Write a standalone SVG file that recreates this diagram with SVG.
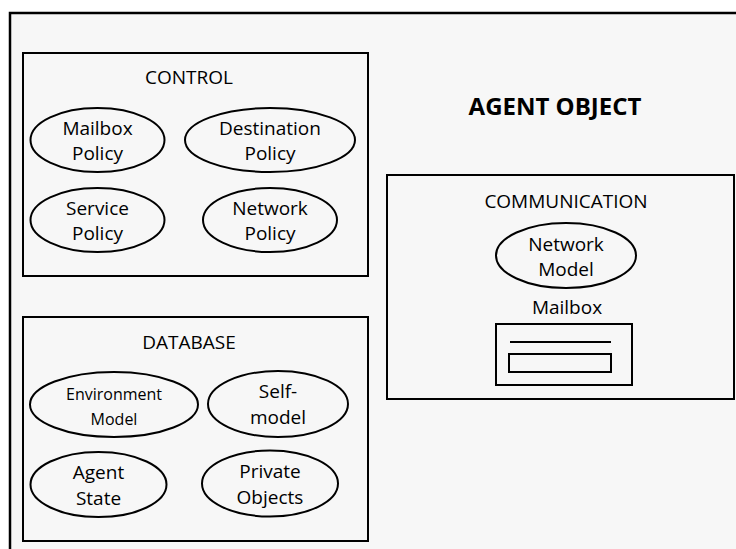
<svg xmlns="http://www.w3.org/2000/svg" width="736" height="549" viewBox="0 0 736 549">
<style>
text{font-family:"Open Sans","Liberation Sans",sans-serif;fill:#000;text-anchor:middle}
.t{font-size:19px}
.s{font-size:16px}
.b{font-size:24px;font-weight:bold}
.box{fill:none;stroke:#000;stroke-width:2}
.el{fill:none;stroke:#000;stroke-width:2}
</style>
<rect x="0" y="0" width="736" height="549" fill="#fff"/>
<rect x="10" y="13" width="740" height="560" fill="#f7f7f7" stroke="#000" stroke-width="2.5"/>
<g id="title"><text class="b" x="555" y="115">AGENT OBJECT</text></g>
<g id="control">
<rect class="box" x="23" y="53" width="345" height="223"/>
<text class="t" x="189" y="84">CONTROL</text>
</g>
<g id="mailbox-policy"><ellipse class="el" cx="97.5" cy="140" rx="67" ry="32"/>
<text class="t" x="97.5" y="135">Mailbox</text><text class="t" x="97.5" y="160">Policy</text></g>
<g id="destination-policy"><ellipse class="el" cx="270" cy="140" rx="85" ry="32"/>
<text class="t" x="270" y="135">Destination</text><text class="t" x="270" y="160">Policy</text></g>
<g id="service-policy"><ellipse class="el" cx="97.5" cy="220" rx="67" ry="32"/>
<text class="t" x="97.5" y="215">Service</text><text class="t" x="97.5" y="240">Policy</text></g>
<g id="network-policy"><ellipse class="el" cx="270" cy="220" rx="67" ry="32"/>
<text class="t" x="270" y="214.5">Network</text><text class="t" x="270" y="239.5">Policy</text></g>
<g id="database">
<rect class="box" x="23" y="317" width="345" height="224"/>
<text class="t" x="189" y="349">DATABASE</text>
</g>
<g id="environment-model"><ellipse class="el" cx="114" cy="404.5" rx="84" ry="32.5"/>
<text class="s" x="114" y="400">Environment</text><text class="s" x="114" y="425">Model</text></g>
<g id="self-model"><ellipse class="el" cx="278" cy="404" rx="70" ry="33"/>
<text class="t" x="278" y="398">Self-</text><text class="t" x="278" y="424">model</text></g>
<g id="agent-state"><ellipse class="el" cx="98.5" cy="484.5" rx="68" ry="32.5"/>
<text class="t" x="98.5" y="479">Agent</text><text class="t" x="98.5" y="505">State</text></g>
<g id="private-objects"><ellipse class="el" cx="270" cy="483.5" rx="68" ry="33"/>
<text class="t" x="270" y="478">Private</text><text class="t" x="270" y="504">Objects</text></g>
<g id="communication">
<rect class="box" x="387" y="175" width="347" height="224"/>
<text class="t" x="566" y="208">COMMUNICATION</text>
</g>
<g id="network-model"><ellipse class="el" cx="566" cy="255.5" rx="70" ry="32.5"/>
<text class="t" x="566" y="251">Network</text><text class="t" x="566" y="276">Model</text></g>
<g id="mailbox">
<text class="t" x="567" y="314">Mailbox</text>
<rect class="box" x="496" y="324" width="136" height="61"/>
<line x1="510" y1="342" x2="611" y2="342" stroke="#000" stroke-width="2"/>
<rect class="box" x="509" y="354" width="102" height="18"/>
</g>
<g id="connectors"></g>
</svg>
